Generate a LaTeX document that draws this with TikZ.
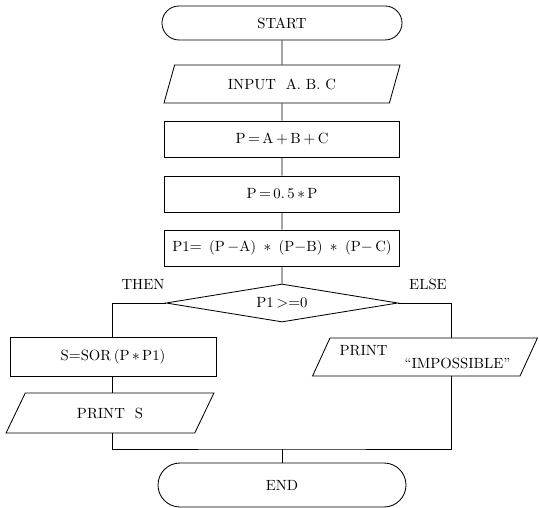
\documentclass[tikz,border=0pt]{standalone}
\usetikzlibrary{shapes}

\begin{document}
\begin{tikzpicture}[ x=0.25mm, y=-0.25mm, line width=0.6pt,
    font=\fontsize{10.5}{12}\selectfont, terminal/.style={ draw,
    rectangle }, process/.style={ draw, rectangle, inner sep=1pt,
    minimum width=58.75mm, minimum height=9mm }, io/.style 2 args={
    draw, trapezium, trapezium stretches=true, trapezium left angle=#1,
    trapezium right angle=#2 }, decision/.style={ draw, diamond,
    aspect=6, inner sep=0pt, minimum width=58mm, minimum height=9.5mm } ]
  \useasboundingbox (0,0) rectangle (539,508);
  \node[terminal,minimum width=60mm,minimum height=8.5mm,
    rounded corners=4.25mm] (start) at (282,23) {START};
  \node[io={74}{106},minimum width=59.5mm,minimum height=9.5mm]
    (input) at (282,84) {INPUT\ \ A.\ B.\ C};
  \foreach \y/\n/\t in {139/1/P\,$=$\,A\,$+$\,B\,$+$\,C,
    194/2/P\,$=$\,0.\,5\,$*$\,P,
    248/3/P1$=$\enspace(P\,$-$A)\enspace$*$\enspace(P$-$B)\enspace$*$\enspace(P$-$\,C)}
  \node[process] (p\n) at (282,\y) {\t};
  \node[decision] (test) at (282,303) {P1\,$>$$=$0};
  \node (then) at (143,284) {THEN};
  \node (else) at (428,284) {ELSE};

  \node[process,minimum width=51.5mm,minimum height=9.75mm]
    (sq) at (113,357) {S$=$SOR\,(P\,$*$\,P1)};
  \node[io={67}{113},minimum width=52mm,minimum height=10mm]
    (outs) at (110,413) {PRINT\ \ S};
  \node[io={63}{117},minimum width=56.25mm,minimum height=9.5mm,
    align=left] (imp) at (425,357)
    {PRINT\\[-3pt]\hspace*{4.4em}``IMPOSSIBLE''};
  \node[terminal,minimum width=62mm,minimum height=11mm,
    rounded corners=5.5mm] (stop) at (282,485) {END};

  \coordinate (lx) at (112,0);
  \coordinate (rx) at (451,0);
  \coordinate (join) at (282,449);
  \draw (start) -- (input) -- (p1) -- (p2) -- (p3) -- (test);
  \draw (test.west) -| (lx |- sq.north);
  \draw (lx |- sq.south) -- (lx |- outs.north);
  \draw (test.east) -| (rx |- imp.north);
  \draw (lx |- outs.south) |- (join) -| (rx |- imp.south);
  \draw (join) -- (stop);

\end{tikzpicture}
\end{document}
